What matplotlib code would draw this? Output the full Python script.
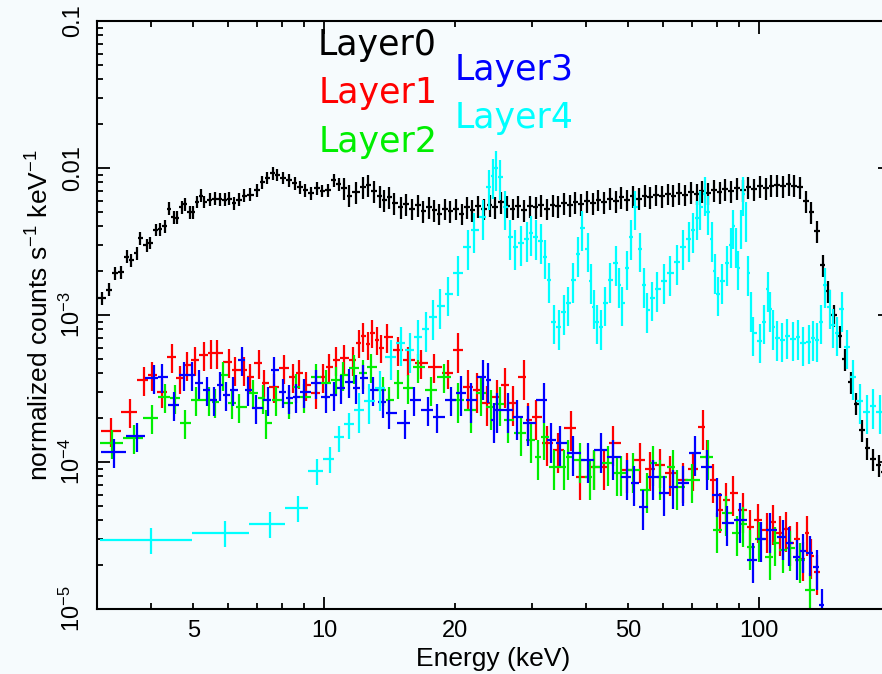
import numpy as np
import matplotlib
matplotlib.use("Agg")
import matplotlib.pyplot as plt
from matplotlib.ticker import LogLocator, FixedLocator, FixedFormatter, NullFormatter

plt.rcParams['font.family'] = ['Liberation Sans', 'DejaVu Sans']
plt.rcParams['mathtext.fontset'] = 'custom'
plt.rcParams['mathtext.rm'] = 'Liberation Sans'
plt.rcParams['mathtext.it'] = 'Liberation Sans'

# ---- data (energy in keV, normalized counts s^-1 keV^-1) ----
layer0_e = [3.08, 3.2, 3.3, 3.4, 3.52, 3.6, 3.7, 3.76, 3.9, 3.97, 4.1, 4.18, 4.3, 4.39, 4.5,
            4.58, 4.7, 4.77, 4.9, 4.98, 5.1, 5.2, 5.3, 5.45, 5.6, 5.75, 5.9, 6.05, 6.2, 6.35,
            6.55, 6.75, 7.0, 7.2, 7.4, 7.6, 7.8, 8.05, 8.3, 8.55, 8.8, 9.05, 9.3, 9.6, 9.9,
            10.2, 10.5, 10.8, 11.1, 11.4, 11.8, 12.3, 12.6, 13.0, 13.4, 13.7, 14.1, 14.5, 15.0,
            15.4, 15.9, 16.4, 16.9, 17.4, 17.9, 18.4, 18.9, 19.5, 20.1, 20.7, 21.3, 21.9, 22.6,
            23.3, 24.0, 24.7, 25.5, 26.3, 27.1, 27.9, 28.8, 29.7, 30.6, 31.5, 32.5, 33.5, 34.5,
            35.6, 36.7, 37.8, 39.0, 40.2, 41.4, 42.7, 44.0, 45.4, 46.8, 48.2, 49.7, 51.3, 52.9,
            54.5, 56.2, 57.9, 59.7, 61.6, 63.5, 65.5, 67.5, 69.6, 71.8, 74.0, 76.3, 78.7, 81.1,
            83.6, 86.2, 88.9, 91.7, 94.5, 97.4, 100.4, 103.5, 106.7, 110.0, 113.4, 116.9, 120.5,
            124.2, 128.0, 131.9, 135.9, 140.0, 144.2, 148.6, 153.1, 157.7, 162.4, 167.3, 172.3,
            177.5, 182.8, 188.3, 194.0]
layer0_f = [1.3e-3, 1.49e-3, 1.93e-3, 1.95e-3, 2.5e-3, 2.37e-3, 2.63e-3, 3.34e-3, 3.0e-3, 3.1e-3,
            3.8e-3, 3.85e-3, 4.0e-3, 5.3e-3, 4.65e-3, 4.6e-3, 5.4e-3, 5.7e-3, 5.0e-3, 5.0e-3,
            5.9e-3, 6.5e-3, 5.9e-3, 6.1e-3, 6.2e-3, 6.15e-3, 6.1e-3, 6.2e-3, 5.8e-3, 6.1e-3,
            6.5e-3, 6.6e-3, 7.1e-3, 8.0e-3, 8.6e-3, 9.2e-3, 9.0e-3, 8.6e-3, 8.3e-3, 7.9e-3,
            7.4e-3, 7.1e-3, 6.75e-3, 7.3e-3, 7.0e-3, 7.1e-3, 8.3e-3, 7.8e-3, 7.3e-3, 6.5e-3,
            6.9e-3, 7.4e-3, 7.65e-3, 7.0e-3, 6.4e-3, 6.05e-3, 6.3e-3, 5.8e-3, 5.4e-3,
            5.7e-3, 5.3e-3, 5.6e-3, 5.1e-3, 5.4e-3, 5.2e-3, 4.9e-3, 5.3e-3, 5.1e-3, 5.3e-3,
            4.9e-3, 5.4e-3, 5.2e-3, 5.5e-3, 5.3e-3, 5.6e-3, 5.4e-3, 5.9e-3, 5.5e-3, 5.3e-3,
            5.5e-3, 5.2e-3, 5.5e-3, 5.4e-3, 5.6e-3, 5.3e-3, 5.6e-3, 5.5e-3, 5.8e-3, 5.6e-3,
            5.9e-3, 5.7e-3, 6.0e-3, 5.8e-3, 6.1e-3, 5.9e-3, 6.2e-3, 6.0e-3, 6.3e-3, 6.1e-3,
            6.4e-3, 6.2e-3, 6.5e-3, 6.3e-3, 6.6e-3, 6.4e-3, 6.7e-3, 6.5e-3, 6.8e-3, 6.6e-3,
            6.9e-3, 6.7e-3, 7.0e-3, 6.8e-3, 7.1e-3, 6.9e-3, 7.2e-3, 7.0e-3, 7.3e-3, 7.1e-3,
            7.4e-3, 7.2e-3, 7.5e-3, 7.3e-3, 7.6e-3, 7.7e-3, 7.5e-3, 7.8e-3, 7.6e-3, 7.4e-3,
            6.0e-3, 5.0e-3, 3.7e-3, 2.2e-3, 1.45e-3, 1.0e-3, 7.2e-4, 5.0e-4, 3.5e-4, 2.5e-4,
            1.65e-4, 1.25e-4, 1.05e-4, 9.5e-5, 8.5e-5]

layer1_e = [3.23, 3.57, 3.85, 4.01, 4.23, 4.46, 4.65, 4.82, 5.03, 5.28, 5.5, 5.65, 6.05, 6.22,
            6.52, 6.73, 7.06, 7.28, 7.64, 8.09, 8.49, 8.76, 9.09, 9.59, 9.95, 10.27, 10.66,
            11.1, 11.65, 12.03, 12.3, 12.6, 12.9, 13.2, 13.5, 13.9, 14.8, 15.6, 16.7, 17.9,
            19.3, 20.3, 21.4, 22.5, 23.7, 24.9, 26.1, 27.1, 28.8, 29.4, 30.6, 32.6, 34.4,
            36.9, 38.8, 41.6, 43.9, 46.2, 49.8, 53.3, 56.0, 59.3, 62.5, 66.9, 70.5, 74.4,
            76.0, 78.5, 81.4, 84.0, 87.2, 91.8, 95.3, 99.5, 104.0, 107.5, 111.6, 115.0,
            118.0, 122.0, 126.0, 128.8, 131.5, 135.8]
layer1_f = [1.63e-4, 2.19e-4, 3.61e-4, 3.91e-4, 3.0e-4, 5.18e-4, 3.7e-4, 4.57e-4, 4.94e-4,
            5.34e-4, 5.51e-4, 5.51e-4, 4.79e-4, 4.22e-4, 4.22e-4, 3.79e-4, 4.71e-4, 3.44e-4,
            3.24e-4, 4.36e-4, 3.79e-4, 4.03e-4, 3.34e-4, 2.95e-4, 3.79e-4, 4.43e-4, 4.94e-4,
            5.1e-4, 4.94e-4, 6.5e-4, 7.2e-4, 6.3e-4, 7.6e-4, 6.8e-4, 6.0e-4, 7.08e-4, 5.78e-4,
            4.94e-4, 4.71e-4, 4.43e-4, 4.03e-4, 5.78e-4, 3.24e-4, 3.09e-4, 2.52e-4, 2.77e-4,
            3.34e-4, 2.52e-4, 3.79e-4, 1.93e-4, 2.02e-4, 1.35e-4, 1.21e-4, 1.7e-4, 7.9e-5,
            9.2e-5, 9.25e-5, 1.35e-4, 8.8e-5, 1.03e-4, 9.0e-5, 9.5e-5, 8.4e-5, 7.55e-5, 9.0e-5,
            1.73e-4, 1.08e-4, 7.5e-5, 4.71e-5, 5.5e-5, 6.15e-5, 4.71e-5, 3.61e-5, 4.0e-5,
            3.44e-5, 3.9e-5, 3.29e-5, 3.5e-5, 2.81e-5, 3.0e-5, 2.2e-5, 3.29e-5, 2.3e-5, 1.79e-5]

layer2_e = [3.25, 3.65, 4.01, 4.3, 4.53, 4.77, 5.08, 5.42, 5.59, 5.86, 6.12, 6.38, 6.87, 7.24,
            7.36, 7.76, 8.31, 8.62, 9.0, 9.59, 10.1, 10.66, 11.05, 11.72, 12.28, 12.82, 13.64,
            14.09, 14.8, 15.6, 16.4, 17.6, 18.8, 20.3, 21.7, 22.9, 24.2, 25.3, 26.4, 28.3,
            29.9, 31.0, 32.0, 33.7, 35.5, 36.3, 38.8, 40.9, 41.6, 44.8, 47.2, 48.0, 51.4, 55.3,
            57.1, 59.3, 63.5, 64.9, 70.0, 76.4, 80.1, 84.0, 89.0, 92.0, 95.3, 100.0, 106.0,
            109.0, 113.4, 118.0, 124.0, 130.9]
layer2_f = [1.35e-4, 1.46e-4, 1.99e-4, 2.77e-4, 2.72e-4, 1.84e-4, 2.64e-4, 2.64e-4, 2.56e-4,
            3.91e-4, 2.52e-4, 2.37e-4, 2.95e-4, 2.72e-4, 1.84e-4, 2.64e-4, 2.52e-4, 3.24e-4,
            2.77e-4, 3.79e-4, 3.44e-4, 3.61e-4, 3.91e-4, 4.36e-4, 4.03e-4, 4.43e-4, 3.09e-4,
            2.64e-4, 3.44e-4, 3.2e-4, 4.43e-4, 3.09e-4, 3.79e-4, 2.64e-4, 2.26e-4, 2.95e-4,
            2.37e-4, 2.5e-4, 1.93e-4, 1.57e-4, 1.41e-4, 1.08e-4, 1.48e-4, 9.25e-5, 9.25e-5,
            1.08e-4, 1.03e-4, 7.9e-5, 9.25e-5, 9.85e-5, 8.4e-5, 8.42e-5, 8.8e-5, 6.45e-5,
            9.85e-5, 7.9e-5, 9.25e-5, 6.76e-5, 7.5e-5, 1.08e-4, 3.44e-5, 4.5e-5, 3.29e-5,
            3.8e-5, 2.64e-5, 3.0e-5, 2.26e-5, 2.8e-5, 2.52e-5, 2.6e-5, 2.15e-5, 1.35e-5]

layer3_e = [3.28, 3.7, 4.05, 4.23, 4.51, 4.75, 4.95, 5.14, 5.36, 5.56, 5.74, 5.95, 6.18, 6.45,
            6.69, 6.98, 7.44, 7.64, 8.05, 8.31, 8.62, 9.0, 9.59, 10.1, 10.5, 10.94, 11.4,
            11.84, 12.28, 12.95, 13.64, 14.09, 15.3, 16.1, 17.3, 18.2, 19.6, 20.6, 21.7, 23.2,
            23.8, 24.5, 24.9, 26.4, 27.8, 29.4, 32.0, 33.2, 34.9, 37.4, 40.3, 43.2, 46.2, 49.8,
            51.5, 54.2, 57.1, 60.3, 63.5, 66.9, 71.3, 76.0, 80.0, 84.5, 90.4, 96.9, 101.0,
            106.0, 113.4, 117.0, 122.0, 126.0, 130.9, 135.8, 139.5]
layer3_f = [1.17e-4, 1.5e-4, 3.73e-4, 3.79e-4, 2.44e-4, 3.91e-4, 3.91e-4, 3.44e-4, 3.09e-4,
            2.64e-4, 3.34e-4, 2.86e-4, 3.09e-4, 4.94e-4, 3.09e-4, 2.33e-4, 2.64e-4, 4.22e-4,
            2.99e-4, 2.72e-4, 2.77e-4, 2.99e-4, 3.44e-4, 2.77e-4, 2.86e-4, 3.19e-4, 3.5e-4,
            3.19e-4, 3.73e-4, 3.09e-4, 2.56e-4, 2.15e-4, 1.84e-4, 2.64e-4, 2.26e-4, 2.02e-4,
            2.64e-4, 2.95e-4, 2.64e-4, 3.79e-4, 3.61e-4, 1.93e-4, 2.26e-4, 2.26e-4, 2.02e-4,
            1.84e-4, 2.64e-4, 1.41e-4, 1.35e-4, 1.15e-4, 1.03e-4, 1.21e-4, 1.08e-4, 7.9e-5,
            7.2e-5, 4.94e-5, 7.9e-5, 6.15e-5, 6.8e-5, 7.2e-5, 1.15e-4, 9.25e-5, 6.0e-5,
            3.85e-5, 4.03e-5, 2.15e-5, 3.0e-5, 3.44e-5, 3.09e-5, 2.8e-5, 2.26e-5, 2.5e-5,
            2.4e-5, 1.93e-5, 1.06e-5]

layer4_e = [4.0, 5.9, 7.5, 8.7, 9.6, 10.3, 10.8, 11.4, 12.0, 12.7, 13.4, 14.2, 15.0, 15.7,
            16.4, 17.1, 17.8, 18.5, 19.3, 20.3, 21.4, 22.1, 23.2, 23.9, 24.4, 24.8, 25.4, 26.1,
            26.8, 27.5, 28.3, 29.2, 29.9, 30.6, 31.5, 32.2, 32.8, 33.7, 34.6, 35.5, 36.4, 37.4,
            38.4, 39.2, 40.3, 41.0, 41.6, 42.4, 43.2, 44.3, 45.5, 46.8, 47.7, 48.5, 49.8, 50.8,
            51.9, 53.3, 54.3, 55.3, 56.8, 58.3, 60.4, 62.5, 64.7, 67.0, 69.0, 70.6, 72.0, 73.3,
            74.9, 76.3, 77.8, 79.0, 80.3, 82.3, 84.5, 86.0, 87.3, 88.4, 89.5, 90.8, 92.0, 93.3,
            94.5, 95.7, 97.0, 100.5, 102.5, 104.6, 106.0, 107.6, 110.0, 113.0, 116.0, 119.6,
            123.0, 126.0, 130.0, 133.0, 135.8, 138.5, 141.6, 145.4, 148.0, 151.0, 155.0, 159.0,
            164.3, 170.6, 176.8, 182.5, 189.5, 196.0]
layer4_f = [2.95e-5, 3.3e-5, 3.8e-5, 4.9e-5, 8.7e-5, 1.05e-4, 1.47e-4, 1.8e-4, 2.25e-4, 2.6e-4,
            3.2e-4, 5.2e-4, 6.4e-4, 5.8e-4, 7.1e-4, 8.0e-4, 9.7e-4, 1.15e-3, 1.4e-3, 1.93e-3,
            2.9e-3, 3.8e-3, 4.65e-3, 7.4e-3, 8.8e-3, 1.0e-2, 8.7e-3, 5.4e-3, 3.4e-3, 2.9e-3,
            3.1e-3, 3.3e-3, 3.6e-3, 3.4e-3, 3.2e-3, 2.5e-3, 1.73e-3, 9.0e-4, 8.3e-4, 1.05e-3,
            1.2e-3, 1.73e-3, 2.6e-3, 3.9e-3, 2.8e-3, 1.7e-3, 1.14e-3, 9.0e-4, 8.3e-4, 1.2e-3,
            1.73e-3, 2.26e-3, 1.6e-3, 1.2e-3, 2.1e-3, 3.4e-3, 5.4e-3, 2.8e-3, 1.6e-3, 1.08e-3,
            1.3e-3, 1.5e-3, 1.7e-3, 1.93e-3, 2.3e-3, 2.9e-3, 3.3e-3, 3.8e-3, 4.6e-3, 5.4e-3,
            6.7e-3, 5.0e-3, 3.3e-3, 2.0e-3, 1.4e-3, 1.7e-3, 2.26e-3, 3.0e-3, 4.0e-3, 3.0e-3,
            2.1e-3, 4.0e-3, 6.7e-3, 4.5e-3, 1.93e-3, 1.1e-3, 7.5e-4, 6.7e-4, 9.0e-4, 1.5e-3,
            1.1e-3, 8.3e-4, 7.0e-4, 6.8e-4, 7.2e-4, 6.9e-4, 7.1e-4, 6.4e-4, 6.6e-4, 7.0e-4,
            6.8e-4, 9.0e-4, 1.6e-3, 1.14e-3, 8.5e-4, 7.5e-4, 1.1e-3, 6.1e-4, 3.8e-4, 2.6e-4,
            2.2e-4, 2.4e-4, 2.2e-4, 2.0e-4]

labels = ['Layer0', 'Layer1', 'Layer2', 'Layer3', 'Layer4']
colors = ['black', '#ff0000', '#00ee00', '#0000ff', '#00ffff']
# relative error sizes: (below split energy, above split energy, split keV)
err_style = [(0.10, 0.17, 11), (0.22, 0.30, 20), (0.22, 0.30, 20), (0.22, 0.30, 20), (0.20, 0.30, 12)]
energies = [layer0_e, layer1_e, layer2_e, layer3_e, layer4_e]
fluxes = [layer0_f, layer1_f, layer2_f, layer3_f, layer4_f]


def half_widths(e):
    e = np.asarray(e, dtype=float)
    mid = (e[1:] + e[:-1]) / 2
    lo = np.empty_like(e)
    hi = np.empty_like(e)
    lo[1:] = e[1:] - mid
    hi[:-1] = mid - e[:-1]
    lo[0] = hi[0]
    hi[-1] = lo[-1]
    return [lo, hi]


bg = '#f6fbfd'
fig = plt.figure(figsize=(8.82, 6.74), dpi=100, facecolor=bg)
ax = fig.add_axes([97 / 882, 65 / 674, 793 / 882, 588 / 674])
ax.set_facecolor(bg)

for e, f, c, (r_lo, r_hi, split) in zip(energies, fluxes, colors, err_style):
    e = np.asarray(e)
    f = np.asarray(f)
    rel = np.where(e < split, r_lo, r_hi)
    ax.errorbar(e, f, xerr=half_widths(e), yerr=rel * f, fmt='none',
                ecolor=c, elinewidth=1.6, capsize=0)

ax.set_xscale('log')
ax.set_yscale('log')
ax.set_xlim(3, 200)
ax.set_ylim(1e-5, 0.1)

ax.xaxis.set_major_locator(FixedLocator([10, 100]))
ax.xaxis.set_minor_locator(LogLocator(base=10, subs=np.arange(2, 10)))
ax.xaxis.set_major_formatter(NullFormatter())
ax.xaxis.set_minor_formatter(NullFormatter())
for v, s in [(5, '5'), (10, '10'), (20, '20'), (50, '50'), (100, '100')]:
    ax.text(v, -0.018, s, transform=ax.get_xaxis_transform(), ha='center', va='top', fontsize=17)

ax.yaxis.set_major_locator(FixedLocator([1e-5, 1e-4, 1e-3, 1e-2, 1e-1]))
ax.yaxis.set_minor_locator(LogLocator(base=10, subs=np.arange(2, 10)))
ax.yaxis.set_major_formatter(FixedFormatter([r'$10^{-5}$', r'$10^{-4}$', r'$10^{-3}$', '0.01', '0.1']))
ax.yaxis.set_minor_formatter(NullFormatter())

ax.tick_params(which='both', direction='in', top=True, right=True, width=1.3, colors='black')
ax.tick_params(which='major', length=9)
ax.tick_params(which='minor', length=4.5)
ax.tick_params(axis='y', labelsize=17, pad=9)
for lab in ax.get_yticklabels():
    lab.set_rotation(90)
    lab.set_va('center')
for sp in ax.spines.values():
    sp.set_linewidth(1.5)

ax.set_xlabel('Energy (keV)', fontsize=19, labelpad=24)
ax.set_ylabel(r'normalized counts s$^{-1}$ keV$^{-1}$', fontsize=19, labelpad=4)

legend_pos = [(318, 45), (319, 93), (319, 142), (455, 70), (455, 118)]
for (x, y), lab, c in zip(legend_pos, labels, colors):
    fig.text(x / 882, 1 - y / 674, lab, color=c, fontsize=25, family='DejaVu Sans',
             ha='left', va='center')

fig.savefig('out.png', dpi=100, facecolor=bg)
